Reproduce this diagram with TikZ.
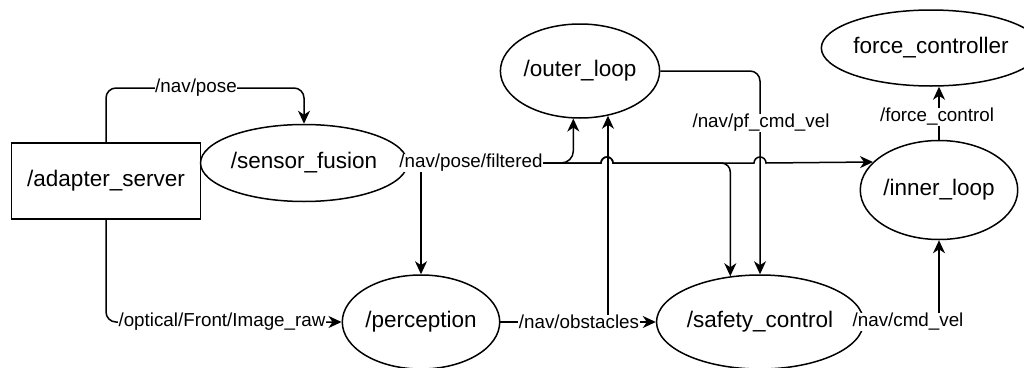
\documentclass[tikz,border=0pt]{standalone}
\usepackage{fontspec}
\setmainfont{Liberation Sans}
\usetikzlibrary{shapes.geometric,arrows.meta}

\begin{document}
\begin{tikzpicture}
[x=1pt, y=-1pt,
 every node/.style={inner sep=0pt},
 proc/.style={line width=1.5pt, draw=black, font=\fontsize{22.5}{27}\selectfont},
 msg/.style={fill=white, inner sep=0.5pt, font=\fontsize{18.8}{22}\selectfont},
 flow/.style={line width=1.5pt, -{Stealth[length=13pt, width=12pt, inset=4pt]}, color=black}]
\useasboundingbox (0,0) rectangle (1024,367);
\node (adapter) [rectangle, minimum width=189pt, minimum height=76pt, proc] at (106, 181) {/adapter\_server};
\node (fusion) [ellipse, minimum width=170pt, minimum height=77pt, proc] at (304, 163) {/sensor\_fusion};
\node (outer) [ellipse, minimum width=153pt, minimum height=94pt, proc] at (580, 71) {/outer\_loop};
\node (force) [ellipse, minimum width=178pt, minimum height=76pt, proc] at (931, 48) {force\_controller};
\node (inner) [ellipse, minimum width=154pt, minimum height=99pt, proc] at (939, 190) {/inner\_loop};
\node (perception) [ellipse, minimum width=152pt, minimum height=94pt, proc] at (421, 322) {/perception};
\node (safety) [ellipse, minimum width=171pt, minimum height=94pt, proc] at (760, 322) {/safety\_control};
% connectors
\draw [flow, rounded corners=10pt] (adapter.north) |- (200, 88) -| (fusion.north);
\draw [flow, rounded corners=10pt] (adapter.south) |- (perception.west);
\draw [flow, rounded corners=12pt] (fusion.east) -| (outer.262);
\draw [flow] (fusion.east) -| (perception.north);
\draw [flow] (fusion.east) -- (601, 163) arc (180:360:6) -- (613, 163) [rounded corners=9pt] -| (safety.123);
\draw [flow] (fusion.east) -- (601, 163) arc (180:360:6) -- (754, 163) arc (180:360:6) -- (inner.157);
\draw [flow, rounded corners=10pt] (outer.east) -| (safety.north);
\draw [flow] (perception.east) -| (outer.302);
\draw [flow] (perception.east) -- (safety.west);
\draw [flow] (safety.east) -| (inner.south);
\draw [flow] (inner.north) -- (inner.north |- force.south);
% topic labels
\node (l1) [msg] at (196, 88) {/nav/pose};
\node (l2) [msg] at (222, 322) {/optical/Front/Image\_raw};
\node (l3) [msg] at (471, 163) {/nav/pose/filtered};
\node (l4) [msg] at (761, 123) {/nav/pf\_cmd\_vel};
\node (l5) [msg] at (579, 322) {/nav/obstacles};
\node (l6) [msg] at (908, 322) {/nav/cmd\_vel};
\node (l7) [msg] at (937, 117) {/force\_control};
\end{tikzpicture}
\end{document}
